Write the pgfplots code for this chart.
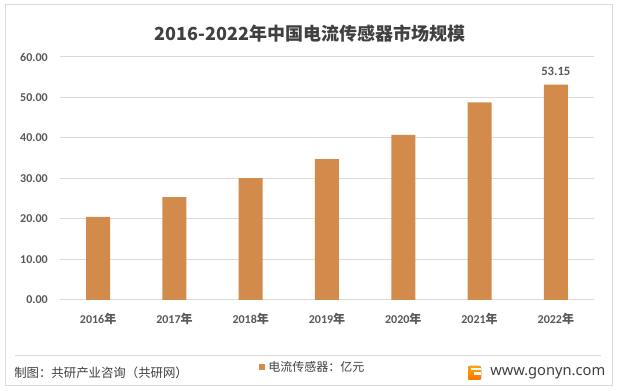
\documentclass[border=0pt]{standalone}
\usepackage{fontspec}
\usepackage{pgfplots}
\pgfplotsset{compat=1.18}
\setmainfont{Carlito}
\newfontfamily\cjk{Noto Sans CJK SC}
\newfontfamily\noto{Noto Sans}
\definecolor{barc}{HTML}{D38B4C}
\definecolor{txt}{HTML}{595959}
\definecolor{titlec}{HTML}{404040}
\definecolor{gridc}{HTML}{D9D9D9}
\begin{document}
\begin{tikzpicture}[x=0.75pt,y=0.75pt]
\useasboundingbox (0,0) rectangle (617,391);
\fill[white] (0,0) rectangle (617,391);
\draw[gridc, line width=0.75pt] (5,5) rectangle (612,386);
\begin{axis}[
  at={(45pt,68.25pt)}, anchor=south west,
  scale only axis, width=400.5pt, height=182.25pt,
  xmin=-0.5, xmax=6.5, ymin=0, ymax=60,
  axis line style={draw=none},
  major tick length=0pt,
  ymajorgrids, grid style={draw=gridc, line width=0.75pt},
  ytick={0,10,20,30,40,50,60},
  xtick={0,1,2,3,4,5,6},
  xticklabels={2016{\cjk 年},2017{\cjk 年},2018{\cjk 年},2019{\cjk 年},2020{\cjk 年},2021{\cjk 年},2022{\cjk 年}},
  xticklabel style={font=\fontsize{9}{11}\selectfont\bfseries, color=txt, inner sep=0pt, anchor=north, yshift=-10pt},
  yticklabel style={font=\fontsize{9}{11}\selectfont\bfseries, color=txt, inner sep=0pt, anchor=east, xshift=-9pt,
    /pgf/number format/fixed, /pgf/number format/fixed zerofill, /pgf/number format/precision=2,
    /pgf/number format/assume math mode=true},
  ybar, bar width=18pt,
  clip=false,
]
\addplot[fill=barc, draw=none, nodes near coords, point meta=explicit symbolic,
  every node near coord/.append style={font=\fontsize{9.5}{11}\selectfont\bfseries, color=txt, yshift=3pt}]
  coordinates {(0,20.5)[] (1,25.4)[] (2,30.1)[] (3,34.8)[] (4,40.8)[] (5,48.8)[] (6,53.15)[53.15]};
\end{axis}
\node[font=\cjk\bfseries\fontsize{13.5}{16}\selectfont, color=titlec] at (310,357) {2016-2022年中国电流传感器市场规模};
\draw[gridc, line width=0.75pt] (15,35) -- (601,35);
\node[anchor=west, inner sep=0pt, font=\cjk\fontsize{9.3}{11}\selectfont, color=titlec] at (14,18) {制图：共研产业咨询（共研网）};
\fill[barc] (259,21) rectangle (265,27);
\node[anchor=west, inner sep=0pt, font=\cjk\fontsize{9}{11}\selectfont, color=titlec] at (268,24) {电流传感器：亿元};
\fill[rounded corners=1.5pt, top color=orange!70!yellow, bottom color=orange!90!red] (468,11) rectangle (481,25);
\fill[white] (474,16) rectangle (481,19);
\fill[white] (471,21) rectangle (481,22.5);
\node[anchor=west, inner sep=0pt, font=\noto\fontsize{11}{13}\selectfont, color=titlec] at (490,18) {www.gonyn.com};
\end{tikzpicture}
\end{document}
